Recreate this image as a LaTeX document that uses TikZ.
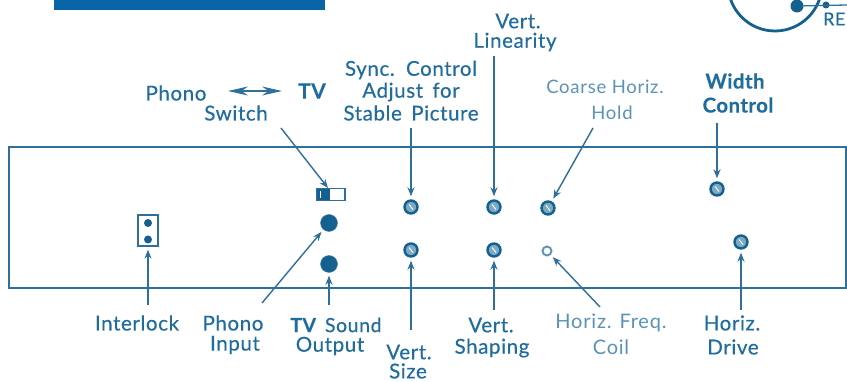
\documentclass[tikz,border=0pt]{standalone}
\usepackage{fontspec}
\setmainfont{Lato}
\usetikzlibrary{arrows.meta}
\definecolor{ink}{HTML}{1F6C9E}
\definecolor{lineblue}{HTML}{2F6F9C}
\definecolor{dark}{HTML}{14618F}
\definecolor{pale}{HTML}{5B93B5}
\definecolor{barblue}{HTML}{0A64A8}
\newfontfamily\labfont[FakeBold=0.35,LetterSpace=3,WordSpace=1.6]{Lato}
\newfontfamily\palefont[LetterSpace=4]{Lato}
\newfontfamily\strongfont[FakeBold=0.3,LetterSpace=2]{Lato Bold}
\tikzset{
  x=1pt,y=-1pt,
  lab/.style={text=ink,font=\fontsize{20.5}{22}\labfont,inner sep=0pt,anchor=center},
  labbold/.style={lab,font=\fontsize{20.5}{22}\strongfont},
  labpale/.style={lab,text=pale,font=\fontsize{18.5}{21}\palefont},
  lead/.style={draw=lineblue,line width=1.4pt,shorten >=3pt,-{Stealth[length=9pt,width=7pt]}},
  screwhead/.style={circle,draw=dark,line width=2.4pt,fill=pale!80,minimum size=13pt,inner sep=0pt},
  jack/.style={circle,fill=dark,draw=dark!80,minimum size=17pt,inner sep=0pt},
  pin/.style={circle,fill=dark,minimum size=8pt,inner sep=0pt},
  ringhole/.style={circle,draw=pale,line width=1.9pt,fill=white,minimum size=9pt,inner sep=0pt},
  frame/.style={draw=lineblue,line width=1.3pt}
}
\begin{document}
\begin{tikzpicture}
\useasboundingbox[fill=white] (0,0) rectangle (847,382);
% top fragments
\fill[barblue] (54,0) rectangle (325,10);
\begin{scope}
\clip (0,0) rectangle (847,382);
\draw[dark,line width=2.8pt] (775,-16) circle (47);
\end{scope}
\node[circle,fill=dark,minimum size=13pt,inner sep=0pt] (knob) at (797,6) {};
\coordinate (redge) at (847,5);
\node[circle,fill=dark,minimum size=7pt,inner sep=0pt] (rdot) at (826,5) {};
\draw[lineblue,line width=1.3pt] (knob) -- (redge);
\node[lab,anchor=west,font=\fontsize{18}{20}\labfont] (re) at (823,19) {RE};
% panel
\node[frame,minimum width=837pt,minimum height=141pt,inner sep=0pt] (panel) at (427.5,217.5) {};
% switch
\node[draw=lineblue,line width=1.3pt,minimum width=28pt,minimum height=12pt,inner sep=0pt] (sw) at (331,194.5) {};
\fill[dark] (317,189) rectangle (330,200);
\fill[white] (319.5,191) rectangle (321,198);
% interlock
\node[frame,minimum width=20pt,minimum height=31pt,inner sep=0pt] (ibox) at (148,230.5) {};
\node[pin] (ia) at (148,223) {};
\node[pin] (ib) at (148,239.5) {};
% jacks
\node[jack] (j1) at (329,223) {};
\node[jack] (j2) at (329,264) {};
% screws
\node[screwhead] (s1) at (411,207) {};
\node[screwhead] (s2) at (411,250) {};
\node[screwhead] (s3) at (494,207) {};
\node[screwhead] (s4) at (494,250) {};
\node[screwhead] (s5) at (548,208) {};
\node[ringhole] (s6) at (547,251) {};
\node[screwhead] (s7) at (717,189) {};
\node[screwhead] (s8) at (741,242) {};
\foreach \n in {s1,s2,s3,s4,s5,s7,s8}{\draw[white,line width=.9pt] ([xshift=-2pt,yshift=2.5pt]\n.center) -- ([xshift=2pt,yshift=-2.5pt]\n.center);}
% labels
\node[lab] (phono) at (176,93) {Phono};
\node[lab,font=\fontsize{21}{22}\strongfont] (tv) at (312,91) {TV};
\node[lab] (switch) at (236,113) {Switch};
\node[lab] (sync) at (411,70) {Sync. Control};
\node[lab] (adj) at (411,92) {Adjust for};
\node[lab] (stable) at (411,113) {Stable Picture};
\node[lab] (vl1) at (518,21) {Vert.};
\node[lab] (vl2) at (515,42) {Linearity};
\node[labpale] (ch1) at (605,87) {Coarse Horiz.};
\node[labpale] (ch2) at (612,113) {Hold};
\node[labbold] (w1) at (735,81) {Width};
\node[labbold] (w2) at (738,105) {Control};
\node[lab] (il) at (137,323) {Interlock};
\node[lab] (pi1) at (233,323) {Phono};
\node[lab] (pi2) at (235,345) {Input};
\node[lab,font=\fontsize{19.5}{22}\labfont] (so1) at (336,325) {{\strongfont TV} Sound};
\node[lab] (so2) at (330,346) {Output};
\node[lab] (vs1) at (409,352) {Vert.};
\node[lab] (vs2) at (408,371) {Size};
\node[lab] (sh1) at (491,325) {Vert.};
\node[lab] (sh2) at (492,348) {Shaping};
\node[labpale,font=\fontsize{20}{21}\palefont] (hf1) at (611,323) {Horiz. Freq.};
\node[labpale,font=\fontsize{20}{21}\palefont] (hf2) at (611,347) {Coil};
\node[lab] (hd1) at (732,323) {Horiz.};
\node[lab] (hd2) at (733,347) {Drive};
% free ends
\coordinate (a1) at (228,91);
\coordinate (a2) at (282,91);
\coordinate (f1) at (281,128);
\coordinate (f2) at (411,128);
\coordinate (f3) at (494,56);
\coordinate (f4) at (593,128);
\coordinate (f5) at (717,123);
\coordinate (f6) at (148,305);
\coordinate (f7) at (262,303);
\coordinate (f8) at (329,305);
\coordinate (f9) at (411,330);
\coordinate (f10) at (494,310);
\coordinate (f11) at (600,307);
\coordinate (f12) at (741,310);
% connectors
\draw[draw=lineblue,line width=1.3pt,{Stealth[length=20pt,width=9pt]}-{Stealth[length=20pt,width=9pt]}] (a1) -- (a2);
\draw[lead,shorten >=0pt] (f1) -- (328,188);
\draw[lead] (f2) -- (s1);
\draw[lead] (f3) -- (s3);
\draw[lead] (f4) -- (s5);
\draw[lead] (f5) -- (s7);
\draw[lead] (f6) -- (ibox);
\draw[lead] (f7) -- (j1);
\draw[lead] (f8) -- (j2);
\draw[lead] (f9) -- (s2);
\draw[lead] (f10) -- (s4);
\draw[lead] (f11) -- (s6);
\draw[lead] (f12) -- (s8);
\end{tikzpicture}
\end{document}
